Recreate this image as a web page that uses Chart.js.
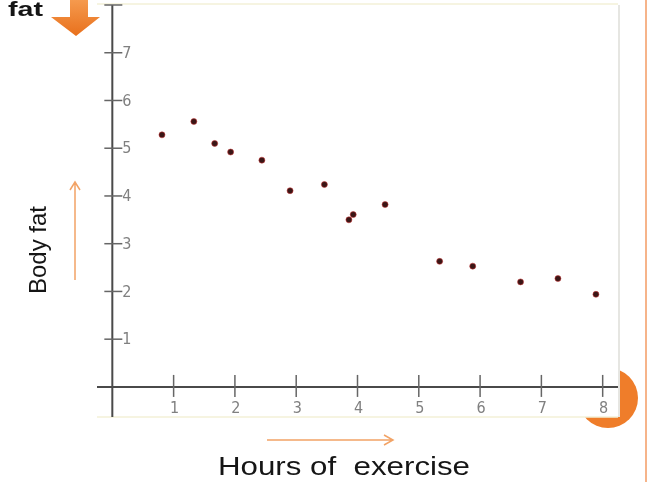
<!DOCTYPE html>
<html>
<head>
<meta charset="utf-8">
<script src="https://cdn.jsdelivr.net/npm/chart.js@4.4.1/dist/chart.umd.min.js"></script>
<style>
  html, body { margin: 0; padding: 0; background: #fff; overflow: hidden; }
  canvas { display: block; }
</style>
</head>
<body>
<canvas id="fatChart" width="649" height="482"></canvas>
<script>
// hours of exercise vs body fat
const hours = [0.81, 1.33, 1.67, 1.93, 2.44, 2.90, 3.46, 3.86, 3.93, 4.45, 5.34, 5.88, 6.66, 7.27, 7.89];
const bodyFat = [5.28, 5.56, 5.10, 4.92, 4.75, 4.11, 4.24, 3.50, 3.61, 3.82, 2.63, 2.53, 2.20, 2.27, 1.94];
const xTicks = [1, 2, 3, 4, 5, 6, 7, 8];
const xTickLabels = ['1', '2', '3', '4', '5', '6', '7', '8'];
const yTicks = [1, 2, 3, 4, 5, 6, 7, 8];
const yTickLabels = ['1', '2', '3', '4', '5', '6', '7', ''];

const ORANGE = '#ef7d2a';
const AXIS = '#4a4a4a';

function stretchedText(ctx, text, x, y, width, align) {
  const w = ctx.measureText(text).width;
  const sx = width / w;
  ctx.save();
  ctx.translate(x, y);
  ctx.scale(sx, 1);
  ctx.textAlign = align;
  ctx.fillText(text, 0, 0);
  ctx.restore();
}

const slideDecor = {
  id: 'slideDecor',
  beforeDraw(chart) {
    const ctx = chart.ctx;
    const area = chart.chartArea;
    ctx.save();
    ctx.fillStyle = '#fff';
    ctx.fillRect(0, 0, chart.width, chart.height);

    // slide border on the right
    ctx.fillStyle = '#f6b48a';
    ctx.fillRect(645, 0, 2, chart.height);

    // orange round corner
    ctx.fillStyle = ORANGE;
    ctx.beginPath();
    ctx.arc(608, 398, 30, 0, Math.PI * 2);
    ctx.fill();

    // picture frame
    ctx.fillStyle = '#fff';
    ctx.fillRect(area.left, area.top - 1, area.right - area.left, area.bottom - area.top + 1);
    ctx.strokeStyle = '#f4f1d8';
    ctx.lineWidth = 1.5;
    ctx.beginPath();
    ctx.moveTo(area.left, area.top - 1);
    ctx.lineTo(area.right, area.top - 1);
    ctx.moveTo(area.left, area.bottom);
    ctx.lineTo(area.right, area.bottom);
    ctx.stroke();
    ctx.strokeStyle = '#e6e6e2';
    ctx.lineWidth = 2;
    ctx.beginPath();
    ctx.moveTo(area.right + 1, area.top);
    ctx.lineTo(area.right + 1, area.bottom);
    ctx.stroke();

    // big down arrow
    const grad = ctx.createLinearGradient(0, 0, 0, 36);
    grad.addColorStop(0, '#f59a4e');
    grad.addColorStop(1, '#e8701c');
    ctx.fillStyle = grad;
    ctx.beginPath();
    ctx.moveTo(70, 0);
    ctx.lineTo(88, 0);
    ctx.lineTo(88, 17);
    ctx.lineTo(100, 17);
    ctx.lineTo(76, 36);
    ctx.lineTo(51, 17);
    ctx.lineTo(70, 17);
    ctx.closePath();
    ctx.fill();

    // thin arrows
    ctx.strokeStyle = '#f2a366';
    ctx.lineWidth = 1.5;
    ctx.beginPath();
    ctx.moveTo(75, 280);
    ctx.lineTo(75, 183);
    ctx.moveTo(70, 190);
    ctx.lineTo(75, 182);
    ctx.lineTo(80, 190);
    ctx.moveTo(267, 440);
    ctx.lineTo(392, 440);
    ctx.moveTo(384, 435);
    ctx.lineTo(393, 440);
    ctx.lineTo(384, 445);
    ctx.stroke();

    // texts
    ctx.fillStyle = '#151515';
    ctx.textBaseline = 'alphabetic';
    ctx.font = 'bold 21px "Liberation Sans", Arial, sans-serif';
    stretchedText(ctx, 'fat', 8, 16, 35, 'left');
    ctx.font = '25px "Liberation Sans", Arial, sans-serif';
    stretchedText(ctx, 'Hours of  exercise', 344, 475, 252, 'center');

    ctx.save();
    ctx.translate(46, 250);
    ctx.rotate(-Math.PI / 2);
    ctx.font = '24px "Liberation Sans", Arial, sans-serif';
    ctx.textAlign = 'center';
    ctx.fillText('Body fat', 0, 0);
    ctx.restore();
    ctx.restore();
  },
  beforeDatasetsDraw(chart) {
    const ctx = chart.ctx;
    const xs = chart.scales.x;
    const ys = chart.scales.y;
    const area = chart.chartArea;
    const x0 = xs.getPixelForValue(0);
    const y0 = ys.getPixelForValue(0);
    ctx.save();
    ctx.strokeStyle = AXIS;
    ctx.lineWidth = 2;
    ctx.beginPath();
    ctx.moveTo(area.left, y0);
    ctx.lineTo(area.right, y0);
    ctx.moveTo(x0, area.top);
    ctx.lineTo(x0, area.bottom);
    ctx.stroke();

    ctx.strokeStyle = '#666';
    ctx.lineWidth = 1.5;
    ctx.fillStyle = '#808080';
    ctx.font = '16px "Liberation Sans Narrow", "DejaVu Sans Condensed", sans-serif';
    ctx.textBaseline = 'middle';

    xTicks.forEach((v, i) => {
      const px = xs.getPixelForValue(v);
      ctx.beginPath();
      ctx.moveTo(px, y0 - 12);
      ctx.lineTo(px, y0 + 10);
      ctx.stroke();
      ctx.textAlign = 'center';
      ctx.fillText(xTickLabels[i], px + 1, y0 + 22);
    });

    yTicks.forEach((v, i) => {
      const py = ys.getPixelForValue(v);
      ctx.beginPath();
      ctx.moveTo(x0 - 8, py);
      ctx.lineTo(x0 + 10, py);
      ctx.stroke();
      ctx.textAlign = 'left';
      ctx.fillText(yTickLabels[i], x0 + 10, py + 1);
    });
    ctx.restore();
  }
};

new Chart(document.getElementById('fatChart'), {
  type: 'scatter',
  data: {
    datasets: [{
      label: 'Body fat',
      data: hours.map((h, i) => ({ x: h, y: bodyFat[i] })),
      pointRadius: 3,
      pointBackgroundColor: '#3a1616',
      pointBorderColor: 'rgba(200,50,50,0.55)',
      pointBorderWidth: 1
    }]
  },
  options: {
    responsive: false,
    animation: false,
    devicePixelRatio: 1,
    layout: { padding: { left: 97, right: 31, top: 4, bottom: 65 } },
    plugins: {
      legend: { display: false },
      tooltip: { enabled: false }
    },
    scales: {
      x: { type: 'linear', min: -0.25, max: 8.25, display: false },
      y: { type: 'linear', min: -0.63, max: 8, display: false }
    }
  },
  plugins: [slideDecor]
});
</script>
</body>
</html>
